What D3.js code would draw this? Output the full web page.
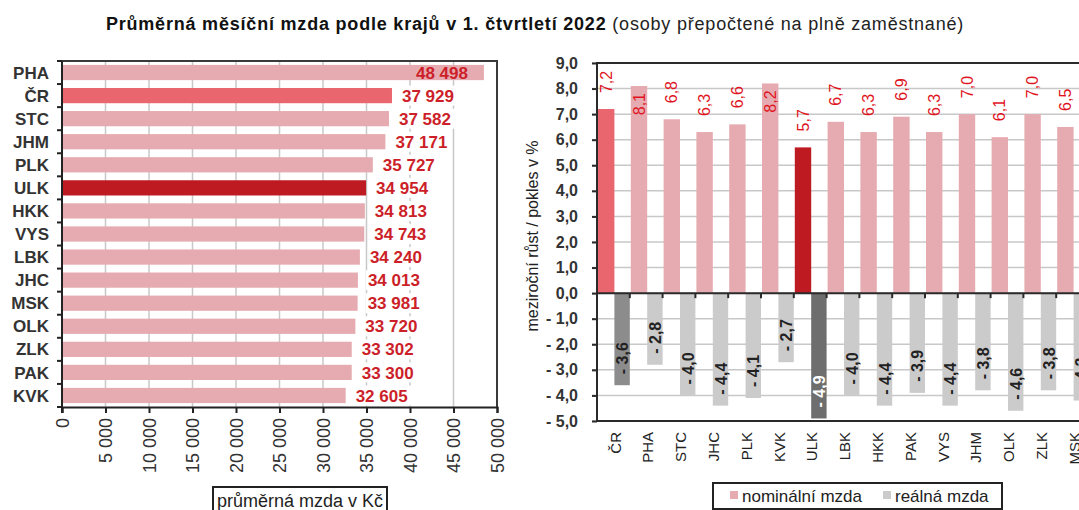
<!DOCTYPE html>
<html>
<head>
<meta charset="utf-8">
<script src="https://cdn.jsdelivr.net/npm/d3@7"></script>
<style>
  body { margin: 0; background: #fff; }
  text { font-family: Arial, "Liberation Sans", sans-serif; }
</style>
</head>
<body>
<svg id="chart" width="1079" height="510"></svg>
<script>
// levý graf - průměrná mzda
const regions = ["PHA", "ČR", "STC", "JHM", "PLK", "ULK", "HKK", "VYS", "LBK", "JHC", "MSK", "OLK", "ZLK", "PAK", "KVK"];
const wages = [48498, 37929, 37582, 37171, 35727, 34954, 34813, 34743, 34240, 34013, 33981, 33720, 33302, 33300, 32605];
const wageTicks = [0, 5000, 10000, 15000, 20000, 25000, 30000, 35000, 40000, 45000, 50000];

// pravý graf - meziroční růst
const growthCats = ["ČR", "PHA", "STC", "JHC", "PLK", "KVK", "ULK", "LBK", "HKK", "PAK", "VYS", "JHM", "OLK", "ZLK", "MSK"];
const nominal = [7.2, 8.1, 6.8, 6.3, 6.6, 8.2, 5.7, 6.7, 6.3, 6.9, 6.3, 7.0, 6.1, 7.0, 6.5];
const real = [-3.6, -2.8, -4.0, -4.4, -4.1, -2.7, -4.9, -4.0, -4.4, -3.9, -4.4, -3.8, -4.6, -3.8, -4.2];
const growthTicks = [9, 8, 7, 6, 5, 4, 3, 2, 1, 0, -1, -2, -3, -4, -5];

const locale = d3.formatLocale({ decimal: ",", thousands: " ", grouping: [3], currency: ["", ""] });
const fmtInt = locale.format(",d");
const fmt1 = locale.format(".1f");
const fmtPct = v => v < 0 ? "- " + fmt1(-v) : fmt1(v);

const svg = d3.select("#chart");
svg.append("rect").attr("width", 1079).attr("height", 510).attr("fill", "#fff");

// titulek
const title = svg.append("text")
  .attr("x", 535).attr("y", 30)
  .attr("text-anchor", "middle")
  .attr("fill", "#111")
  .attr("letter-spacing", 0.8);
title.append("tspan").attr("font-weight", "bold").attr("font-size", 18)
  .text("Průměrná měsíční mzda podle krajů v 1. čtvrtletí  2022");
title.append("tspan").attr("font-size", 18).attr("fill", "#222")
  .text(" (osoby přepočtené na plně zaměstnané)");

const pinkLight = "#e6abb0", pinkMid = "#e9666f", redDark = "#be1a22";
const barColor = c => c === "ČR" ? pinkMid : c === "ULK" ? redDark : pinkLight;

/* ---------- levý graf ---------- */
const L = { left: 62, right: 497, top: 61, bottom: 407 };

const x = d3.scaleLinear().domain([0, 50000]).range([L.left, L.right]);
const y = d3.scaleBand().domain(regions).range([L.top, L.bottom]).paddingInner(0.34).paddingOuter(0.17);

const left = svg.append("g");

// mřížka
left.selectAll("line.grid")
  .data(wageTicks.slice(1, -1)).enter().append("line")
  .attr("x1", d => x(d)).attr("x2", d => x(d))
  .attr("y1", L.top).attr("y2", L.bottom)
  .attr("stroke", "#c8c8c8").attr("stroke-width", 1.5);

// sloupce
left.selectAll("rect.bar")
  .data(regions).enter().append("rect")
  .attr("x", x(0) + 1)
  .attr("y", d => y(d))
  .attr("width", (d, i) => x(wages[i]) - x(0) - 1)
  .attr("height", y.bandwidth())
  .attr("fill", d => barColor(d));

// popisky hodnot
const lbl = left.selectAll("g.lbl")
  .data(regions).enter().append("g")
  .attr("transform", (d, i) => {
    const inside = wages[i] > 45000;
    const xx = inside ? x(wages[i]) - 68 : x(wages[i]) + 10;
    return `translate(${xx},${y(d) + y.bandwidth() / 2})`;
  });
lbl.filter((d, i) => wages[i] <= 45000).append("rect")
  .attr("x", -2).attr("y", -10).attr("width", 58).attr("height", 20).attr("fill", "#fff");
lbl.append("text")
  .attr("dy", "0.36em")
  .attr("font-size", 17).attr("font-weight", "bold")
  .attr("fill", "#cc1f29")
  .text((d, i) => fmtInt(wages[i]));

// rámeček
left.append("path")
  .attr("d", `M${L.left},${L.top}H${L.right}V${L.bottom}`)
  .attr("fill", "none").attr("stroke", "#3a3a3a").attr("stroke-width", 2);

// osa y
const yAxisL = left.append("g").attr("transform", `translate(${L.left},0)`);
yAxisL.append("line").attr("y1", L.top).attr("y2", L.bottom + 6).attr("stroke", "#222").attr("stroke-width", 2);
const bounds = regions.map(d => y(d) - y.step() * y.paddingInner() / 2).concat([L.bottom]);
yAxisL.selectAll("line.tk").data(bounds).enter().append("line")
  .attr("x1", -5).attr("x2", 0).attr("y1", d => d).attr("y2", d => d)
  .attr("stroke", "#222").attr("stroke-width", 2);
yAxisL.selectAll("text").data(regions).enter().append("text")
  .attr("x", -13).attr("y", d => y(d) + y.bandwidth() / 2).attr("dy", "0.36em")
  .attr("text-anchor", "end")
  .attr("font-size", 17).attr("font-weight", "bold").attr("fill", "#333")
  .text(d => d);

// osa x
const xAxisL = left.append("g").attr("transform", `translate(0,${L.bottom})`)
  .call(d3.axisBottom(x).tickValues(wageTicks).tickSize(6).tickFormat(fmtInt));
xAxisL.select(".domain").attr("stroke", "#222").attr("stroke-width", 2);
xAxisL.selectAll(".tick line").attr("stroke", "#222").attr("stroke-width", 2);
xAxisL.selectAll(".tick text")
  .attr("transform", "rotate(-90)")
  .attr("x", -11).attr("y", 0).attr("dy", "0.35em")
  .attr("text-anchor", "end")
  .attr("font-size", 18).attr("fill", "#333");

// název osy x
left.append("rect").attr("x", 213).attr("y", 487).attr("width", 174).attr("height", 30)
  .attr("fill", "#fff").attr("stroke", "#222").attr("stroke-width", 2);
left.append("text").attr("x", 300).attr("y", 507).attr("text-anchor", "middle")
  .attr("font-size", 18).attr("fill", "#222").text("průměrná mzda v Kč");

/* ---------- pravý graf ---------- */
const R = { left: 597, top: 63, bottom: 421 };
const step = 32.8;

const gx = d3.scaleBand().domain(growthCats).range([R.left, R.left + step * growthCats.length]);
const sub = d3.scaleBand().domain(["nom", "real"]).range([0, gx.bandwidth()]);
const gy = d3.scaleLinear().domain([-5, 9]).range([R.bottom, R.top]);

const right = svg.append("g");

// mřížka
right.selectAll("line.grid").data(growthTicks).enter().append("line")
  .attr("x1", R.left - 5).attr("x2", 1079)
  .attr("y1", d => gy(d)).attr("y2", d => gy(d))
  .attr("stroke", "#c8c8c8").attr("stroke-width", 1.5);

const realColor = c => c === "ČR" ? "#8c8c8c" : c === "ULK" ? "#6e6e6e" : "#cbcbcb";

right.selectAll("rect.nom").data(growthCats).enter().append("rect")
  .attr("x", d => gx(d) + sub("nom") + 1)
  .attr("width", sub.bandwidth())
  .attr("y", (d, i) => gy(nominal[i]))
  .attr("height", (d, i) => gy(0) - gy(nominal[i]))
  .attr("fill", d => barColor(d));

right.selectAll("rect.real").data(growthCats).enter().append("rect")
  .attr("x", d => gx(d) + sub("real") + 1)
  .attr("width", sub.bandwidth() - 1)
  .attr("y", gy(0))
  .attr("height", (d, i) => gy(real[i]) - gy(0))
  .attr("fill", d => realColor(d));

// popisky nominální
right.selectAll("text.nom").data(growthCats).enter().append("text")
  .attr("transform", (d, i) => {
    const cx = gx(d) + sub("nom") + 1 + sub.bandwidth() / 2;
    const yy = nominal[i] > 7.5 ? gy(nominal[i]) + 7 : gy(nominal[i]) - 16;
    return `translate(${cx},${yy}) rotate(-90)`;
  })
  .attr("dy", "0.35em")
  .attr("text-anchor", (d, i) => nominal[i] > 7.5 ? "end" : "start")
  .attr("font-size", 16).attr("fill", "#e0141e")
  .text((d, i) => fmtPct(nominal[i]));

// popisky reálné
right.selectAll("text.real").data(growthCats).enter().append("text")
  .attr("transform", (d, i) => {
    const cx = gx(d) + sub("real") + 1 + sub.bandwidth() / 2;
    return `translate(${cx},${gy(real[i]) - 11}) rotate(-90)`;
  })
  .attr("dy", "0.35em")
  .attr("font-size", 16).attr("font-weight", "bold")
  .attr("fill", d => d === "ULK" ? "#fff" : "#222")
  .text((d, i) => fmtPct(real[i]));

// rámeček a osy
right.append("path")
  .attr("d", `M1079,${R.top}H${R.left}V${R.bottom}H1079`)
  .attr("fill", "none").attr("stroke", "#2a2a2a").attr("stroke-width", 2);
right.append("line").attr("x1", R.left).attr("x2", 1079).attr("y1", gy(0)).attr("y2", gy(0))
  .attr("stroke", "#2a2a2a").attr("stroke-width", 2);
right.selectAll("line.xt").data(growthCats.map(d => gx(d) + gx.bandwidth())).enter().append("line")
  .attr("x1", d => d).attr("x2", d => d).attr("y1", gy(0)).attr("y2", gy(0) + 5)
  .attr("stroke", "#2a2a2a").attr("stroke-width", 2);

const yAxisR = right.append("g").attr("transform", `translate(${R.left},0)`)
  .call(d3.axisLeft(gy).tickValues(growthTicks).tickSize(5).tickFormat(fmtPct));
yAxisR.select(".domain").remove();
yAxisR.selectAll(".tick line").attr("stroke", "#2a2a2a").attr("stroke-width", 2);
yAxisR.selectAll(".tick text").attr("x", -19)
  .attr("font-size", 16).attr("font-weight", "bold").attr("fill", "#333");

// popisky kategorií
right.selectAll("text.cat").data(growthCats).enter().append("text")
  .attr("transform", d => `translate(${gx(d) + gx.bandwidth() / 2 + 2},${R.bottom + 11}) rotate(-90)`)
  .attr("dy", "0.35em")
  .attr("text-anchor", "end")
  .attr("font-size", 15).attr("fill", "#222")
  .text(d => d);

// název osy y
right.append("text")
  .attr("transform", `translate(538,236) rotate(-90)`)
  .attr("text-anchor", "middle")
  .attr("font-size", 16).attr("fill", "#222")
  .text("meziroční růst / pokles v %");

// legenda
const leg = right.append("g");
leg.append("rect").attr("x", 713).attr("y", 483).attr("width", 289).attr("height", 26)
  .attr("fill", "#fff").attr("stroke", "#222").attr("stroke-width", 2);
leg.append("rect").attr("x", 730).attr("y", 491).attr("width", 8).attr("height", 8).attr("fill", pinkLight);
leg.append("text").attr("x", 742).attr("y", 502).attr("font-size", 17).attr("fill", "#222").text("nominální mzda");
leg.append("rect").attr("x", 883).attr("y", 491).attr("width", 8).attr("height", 8).attr("fill", "#cbcbcb");
leg.append("text").attr("x", 895).attr("y", 502).attr("font-size", 17).attr("fill", "#222").text("reálná mzda");
</script>
</body>
</html>
